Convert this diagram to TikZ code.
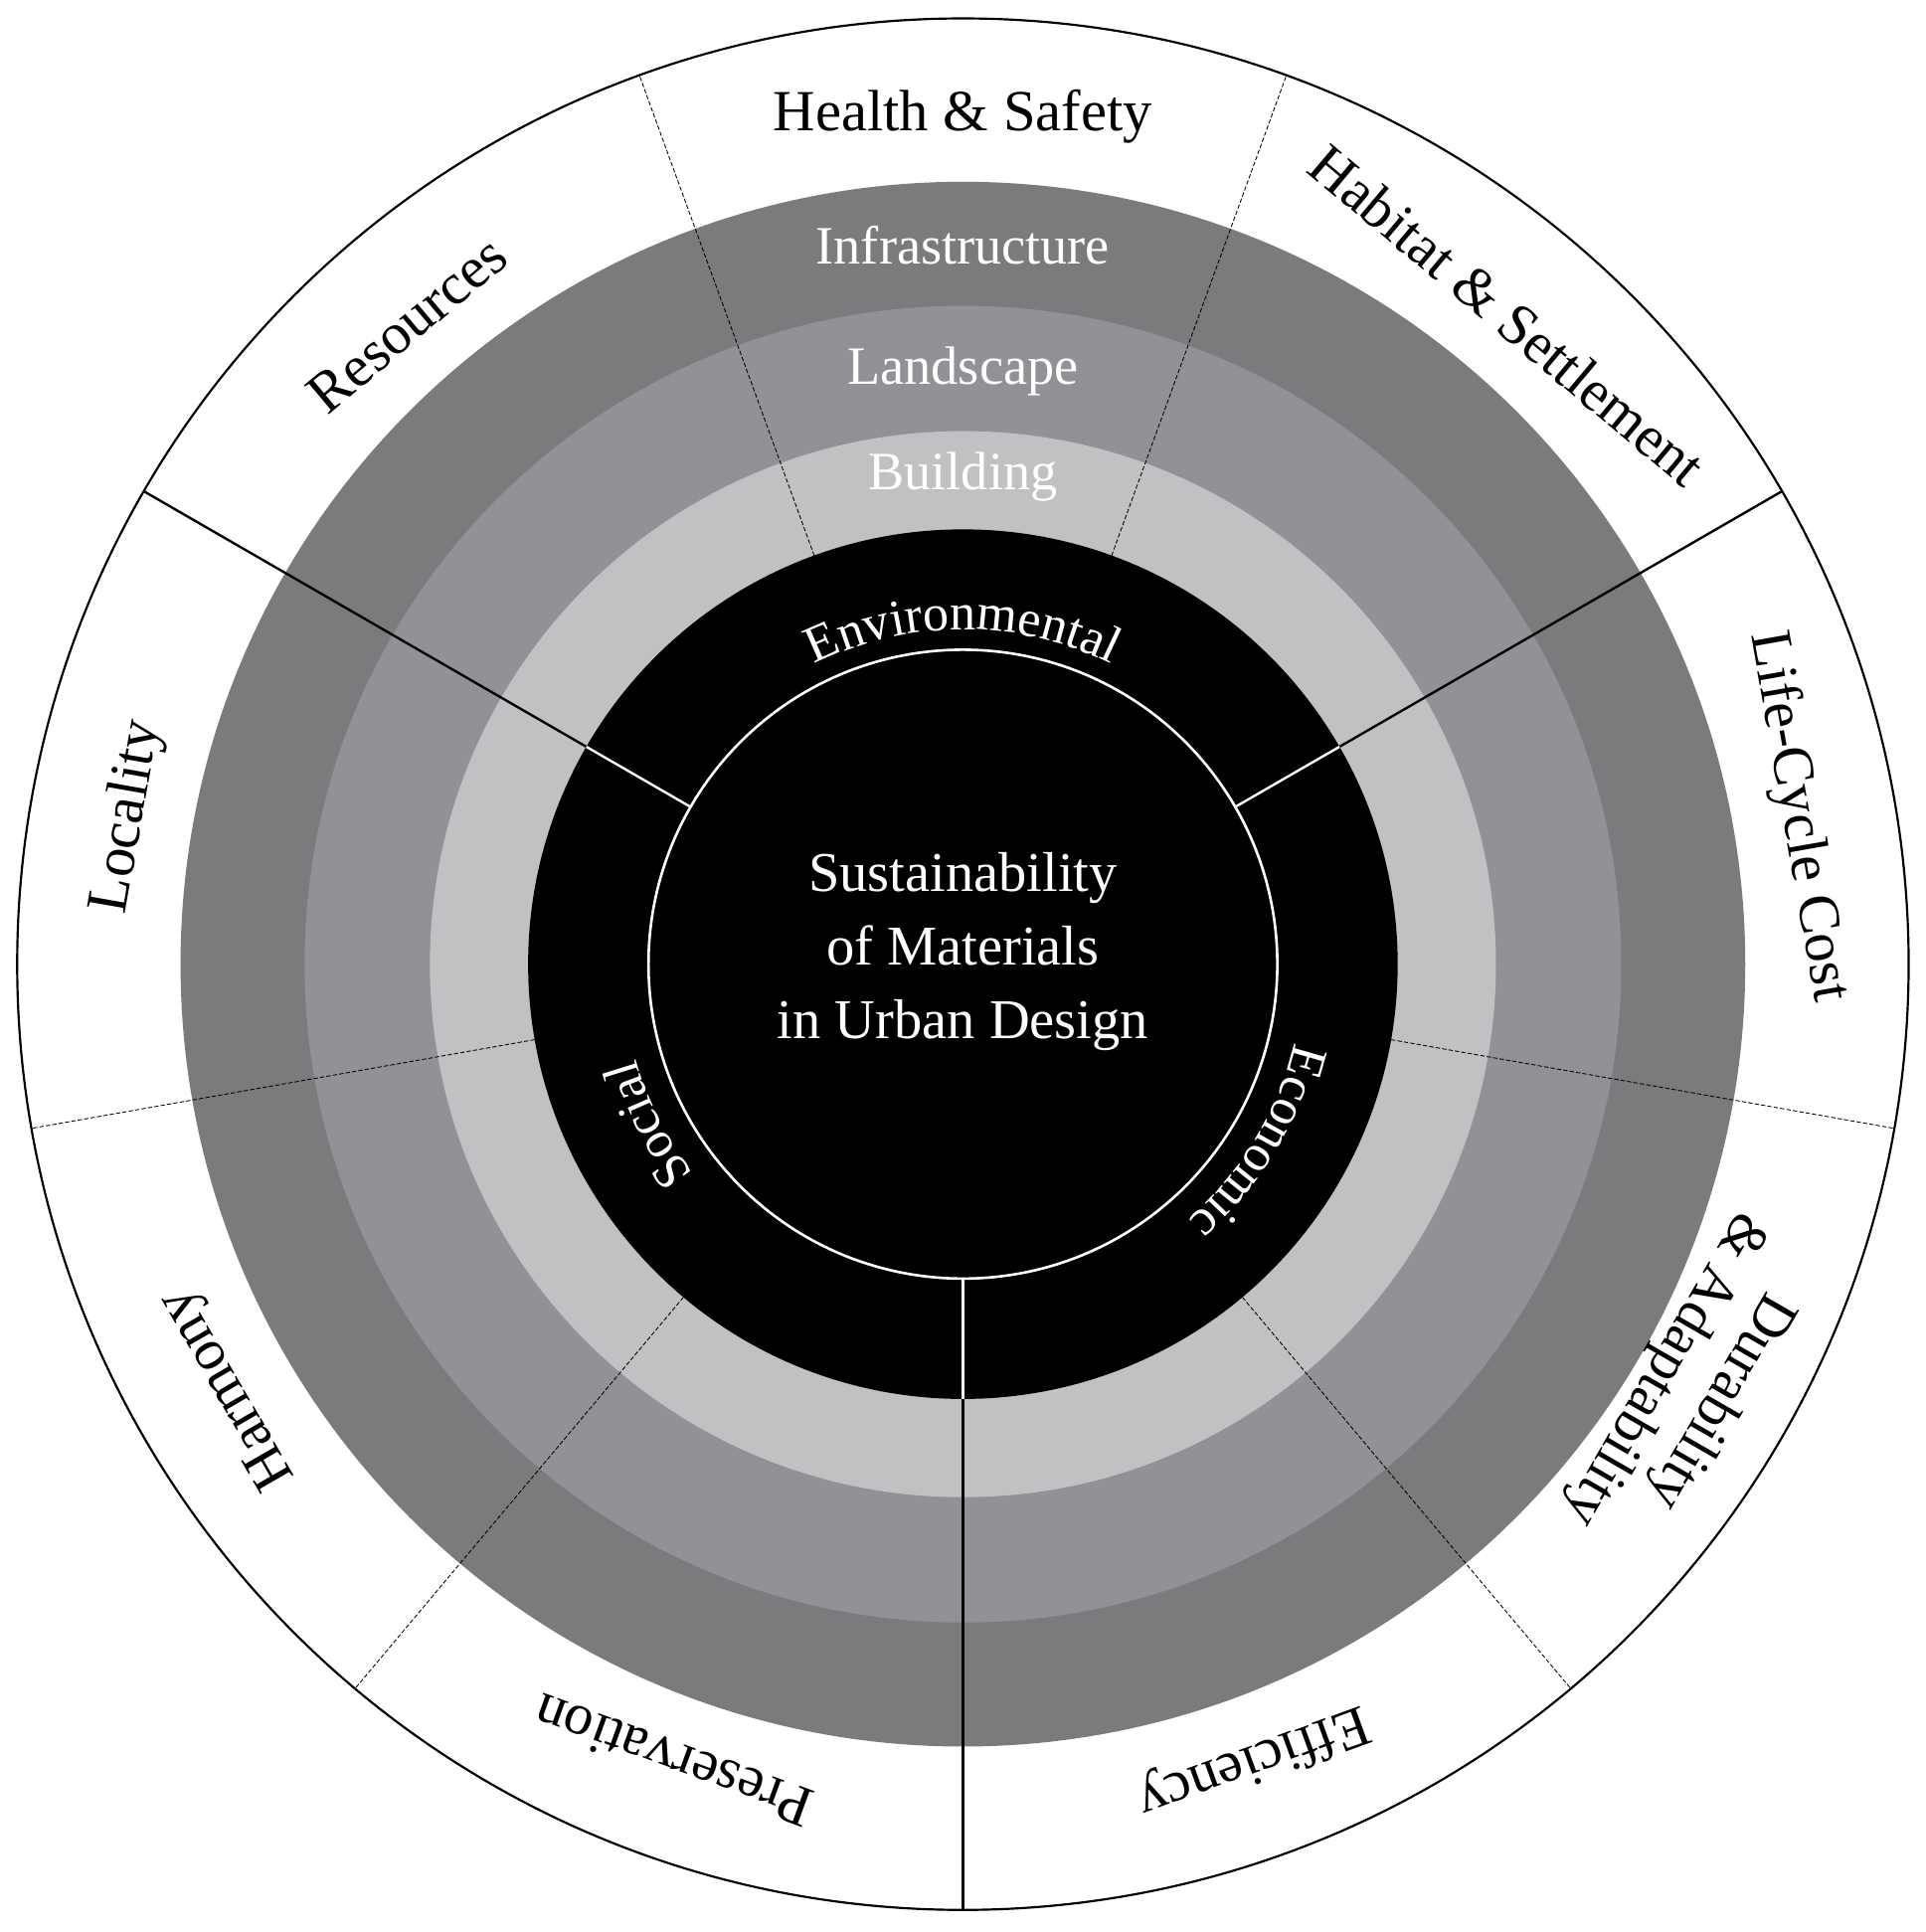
\documentclass[tikz,border=0pt]{standalone}
\usepackage{fontspec}
\setmainfont{Liberation Serif}
\usetikzlibrary{decorations.text}
\definecolor{ringA}{HTML}{7B7B7E}
\definecolor{ringB}{HTML}{929296}
\definecolor{ringC}{HTML}{C1C1C3}
\tikzset{
 outlbl/.style={font=\fontsize{27}{30}\selectfont, text=black},
 inlbl/.style={font=\fontsize{25}{28}\selectfont, text=white},
 sepline/.style={line width=1.1pt, black},
 thinsep/.style={line width=0.4pt, black, dashed, dash pattern=on 2pt off 1pt}
}
\begin{document}
\begin{tikzpicture}
\useasboundingbox (-15.68,-15.76) rectangle (15.68,15.70);
\fill[white] (-15.68,-15.76) rectangle (15.68,15.70);
\draw[line width=1pt, fill=white] (0,0) circle (15.4);
\fill[ringA] (0,0) circle (12.74);
\fill[ringB] (0,0) circle (10.72);
\fill[ringC] (0,0) circle (8.68);
\fill[black] (0,0) circle (7.08);
\draw[white, line width=1.2pt] (0,0) circle (5.12);
% separators
\foreach \a in {110,70,-10,-50,190,230} \draw[thinsep] (\a:7.08) -- (\a:15.4);
\foreach \a in {150,30,270} {
 \draw[sepline] (\a:7.08) -- (\a:15.4);
 \draw[white, line width=1.1pt] (\a:5.12) -- (\a:7.08);
}
% outer labels
\node[outlbl] (hs) at (90:13.8) {Health \& Safety};
\node[outlbl, rotate=-40] (hab) at (50:13.8) {Habitat \& Settlement};
\node[outlbl, rotate=-80] (lcc) at (10:13.8) {Life-Cycle Cost};
\node[outlbl, rotate=-120, align=center] (dur) at (-30:13.7) {Durability\\\& Adaptability};
\node[outlbl, rotate=-160] (eff) at (-70:13.8) {Efficiency};
\node[outlbl, rotate=160] (pre) at (-110:13.8) {Preservation};
\node[outlbl, rotate=120] (har) at (-150:13.8) {Harmony};
\node[outlbl, rotate=80] (loc) at (170:13.8) {Locality};
\node[outlbl, rotate=40] (res) at (131:13.8) {Resources};
% ring labels
\node[inlbl] (inf) at (90:11.7) {Infrastructure};
\node[inlbl] (land) at (90:9.66) {Landscape};
\node[inlbl] (bld) at (90:7.94) {Building};
% center
\node[font=\fontsize{26}{34}\selectfont, text=white, align=center] (ctr) at (0,0.2)
 {Sustainability\\of Materials\\in Urban Design};
% curved labels
{\fontsize{24}{26}\selectfont
\path[decorate, decoration={text along path, text={Environmental}, text align=center, text color=white}]
 (116:5.45) arc[start angle=116, end angle=64, radius=5.45cm];
\path[decorate, decoration={text along path, text={Social}, text align=center, text color=white}]
 (232:5.55) arc[start angle=232, end angle=182, radius=5.55cm];
\path[decorate, decoration={text along path, text={Economic}, text align=center, text color=white}]
 (-2:5.55) arc[start angle=-2, end angle=-60, radius=5.55cm];
}
\end{tikzpicture}
\end{document}
